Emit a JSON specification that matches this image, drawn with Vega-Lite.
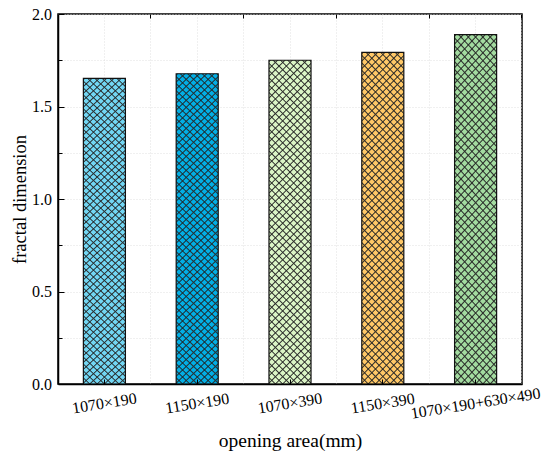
{
  "$schema": "https://vega.github.io/schema/vega-lite/v6.json",
  "width": 464,
  "height": 370,
  "autosize": "none",
  "padding": {"left": 58, "top": 14, "right": 28, "bottom": 68},
  "config": {
    "view": {"stroke": "#000", "strokeWidth": 1.5},
    "font": "Liberation Serif",
    "axis": {
      "labelFont": "Liberation Serif",
      "titleFont": "Liberation Serif",
      "labelColor": "#000",
      "titleColor": "#000",
      "tickColor": "#000",
      "domainColor": "#000",
      "domainWidth": 1.5,
      "gridColor": "#d8d8d8",
      "gridDash": [1, 2],
      "gridWidth": 0.8
    }
  },
  "data": {
    "values": [
      {"area": "1070×190", "fd": 1.652},
      {"area": "1150×190", "fd": 1.677},
      {"area": "1070×390", "fd": 1.750},
      {"area": "1150×390", "fd": 1.793},
      {"area": "1070×190+630×490", "fd": 1.888}
    ]
  },
  "layer": [
    {
      "mark": {"type": "bar"},
      "encoding": {
        "x": {
          "field": "area", "type": "nominal", "sort": null,
          "scale": {"paddingInner": 0.547, "paddingOuter": 0.2735},
          "axis": {
            "title": "opening area(mm)", "titleFontSize": 19.5, "titleFontWeight": "normal",
            "titleBaseline": "alphabetic", "titleY": 62,
            "labelFontSize": 16, "labelAngle": -9, "labelAlign": "center", "labelBaseline": "middle",
            "labelPadding": 24, "labelOverlap": false,
            "bandPosition": 0.5, "tickSize": -5, "grid": false, "zindex": 1
          }
        },
        "y": {
          "field": "fd", "type": "quantitative",
          "scale": {"domain": [0, 2], "nice": false},
          "axis": {
            "title": "fractal dimension", "titleFontSize": 18.5, "titleFontWeight": "normal",
            "titleBaseline": "alphabetic", "titleX": -33,
            "values": [0, 0.5, 1, 1.5, 2], "format": ".1f",
            "labelFontSize": 16, "labelPadding": 12.5, "tickSize": -6, "grid": true
          }
        },
        "color": {
          "field": "area", "type": "nominal", "sort": null, "legend": null,
          "scale": {
            "domain": ["1070×190", "1150×190", "1070×390", "1150×390", "1070×190+630×490"],
            "range": ["#72d6f3", "#03aee4", "#dbf5c6", "#ffc867", "#a3dba0"]
          }
        }
      }
    },
    {
      "mark": {
        "type": "bar",
        "fill": {
          "gradient": "linear", "x1": 0, "y1": 0, "x2": 0.156, "y2": 1.2,
          "stops": [
            {"offset": 0, "color": "transparent"}, {"offset": 0.00325, "color": "#333"}, {"offset": 0.0065, "color": "transparent"},
            {"offset": 0.0185, "color": "transparent"}, {"offset": 0.02175, "color": "#333"}, {"offset": 0.025, "color": "transparent"},
            {"offset": 0.037, "color": "transparent"}, {"offset": 0.04025, "color": "#333"}, {"offset": 0.0435, "color": "transparent"},
            {"offset": 0.0555, "color": "transparent"}, {"offset": 0.05875, "color": "#333"}, {"offset": 0.062, "color": "transparent"},
            {"offset": 0.074, "color": "transparent"}, {"offset": 0.07725, "color": "#333"}, {"offset": 0.0805, "color": "transparent"},
            {"offset": 0.0925, "color": "transparent"}, {"offset": 0.09575, "color": "#333"}, {"offset": 0.099, "color": "transparent"},
            {"offset": 0.111, "color": "transparent"}, {"offset": 0.11425, "color": "#333"}, {"offset": 0.1175, "color": "transparent"},
            {"offset": 0.1295, "color": "transparent"}, {"offset": 0.13275, "color": "#333"}, {"offset": 0.136, "color": "transparent"},
            {"offset": 0.148, "color": "transparent"}, {"offset": 0.15125, "color": "#333"}, {"offset": 0.1545, "color": "transparent"},
            {"offset": 0.1665, "color": "transparent"}, {"offset": 0.16975, "color": "#333"}, {"offset": 0.173, "color": "transparent"},
            {"offset": 0.185, "color": "transparent"}, {"offset": 0.18825, "color": "#333"}, {"offset": 0.1915, "color": "transparent"},
            {"offset": 0.2035, "color": "transparent"}, {"offset": 0.20675, "color": "#333"}, {"offset": 0.21, "color": "transparent"},
            {"offset": 0.222, "color": "transparent"}, {"offset": 0.22525, "color": "#333"}, {"offset": 0.2285, "color": "transparent"},
            {"offset": 0.2405, "color": "transparent"}, {"offset": 0.24375, "color": "#333"}, {"offset": 0.247, "color": "transparent"},
            {"offset": 0.259, "color": "transparent"}, {"offset": 0.26225, "color": "#333"}, {"offset": 0.2655, "color": "transparent"},
            {"offset": 0.2775, "color": "transparent"}, {"offset": 0.28075, "color": "#333"}, {"offset": 0.284, "color": "transparent"},
            {"offset": 0.296, "color": "transparent"}, {"offset": 0.29925, "color": "#333"}, {"offset": 0.3025, "color": "transparent"},
            {"offset": 0.3145, "color": "transparent"}, {"offset": 0.31775, "color": "#333"}, {"offset": 0.321, "color": "transparent"},
            {"offset": 0.333, "color": "transparent"}, {"offset": 0.33625, "color": "#333"}, {"offset": 0.3395, "color": "transparent"},
            {"offset": 0.3515, "color": "transparent"}, {"offset": 0.35475, "color": "#333"}, {"offset": 0.358, "color": "transparent"},
            {"offset": 0.37, "color": "transparent"}, {"offset": 0.37325, "color": "#333"}, {"offset": 0.3765, "color": "transparent"},
            {"offset": 0.3885, "color": "transparent"}, {"offset": 0.39175, "color": "#333"}, {"offset": 0.395, "color": "transparent"},
            {"offset": 0.407, "color": "transparent"}, {"offset": 0.41025, "color": "#333"}, {"offset": 0.4135, "color": "transparent"},
            {"offset": 0.4255, "color": "transparent"}, {"offset": 0.42875, "color": "#333"}, {"offset": 0.432, "color": "transparent"},
            {"offset": 0.444, "color": "transparent"}, {"offset": 0.44725, "color": "#333"}, {"offset": 0.4505, "color": "transparent"},
            {"offset": 0.4625, "color": "transparent"}, {"offset": 0.46575, "color": "#333"}, {"offset": 0.469, "color": "transparent"},
            {"offset": 0.481, "color": "transparent"}, {"offset": 0.48425, "color": "#333"}, {"offset": 0.4875, "color": "transparent"},
            {"offset": 0.4995, "color": "transparent"}, {"offset": 0.50275, "color": "#333"}, {"offset": 0.506, "color": "transparent"},
            {"offset": 0.518, "color": "transparent"}, {"offset": 0.52125, "color": "#333"}, {"offset": 0.5245, "color": "transparent"},
            {"offset": 0.5365, "color": "transparent"}, {"offset": 0.53975, "color": "#333"}, {"offset": 0.543, "color": "transparent"},
            {"offset": 0.555, "color": "transparent"}, {"offset": 0.55825, "color": "#333"}, {"offset": 0.5615, "color": "transparent"},
            {"offset": 0.5735, "color": "transparent"}, {"offset": 0.57675, "color": "#333"}, {"offset": 0.58, "color": "transparent"},
            {"offset": 0.592, "color": "transparent"}, {"offset": 0.59525, "color": "#333"}, {"offset": 0.5985, "color": "transparent"},
            {"offset": 0.6105, "color": "transparent"}, {"offset": 0.61375, "color": "#333"}, {"offset": 0.617, "color": "transparent"},
            {"offset": 0.629, "color": "transparent"}, {"offset": 0.63225, "color": "#333"}, {"offset": 0.6355, "color": "transparent"},
            {"offset": 0.6475, "color": "transparent"}, {"offset": 0.65075, "color": "#333"}, {"offset": 0.654, "color": "transparent"},
            {"offset": 0.666, "color": "transparent"}, {"offset": 0.66925, "color": "#333"}, {"offset": 0.6725, "color": "transparent"},
            {"offset": 0.6845, "color": "transparent"}, {"offset": 0.68775, "color": "#333"}, {"offset": 0.691, "color": "transparent"},
            {"offset": 0.703, "color": "transparent"}, {"offset": 0.70625, "color": "#333"}, {"offset": 0.7095, "color": "transparent"},
            {"offset": 0.7215, "color": "transparent"}, {"offset": 0.72475, "color": "#333"}, {"offset": 0.728, "color": "transparent"},
            {"offset": 0.74, "color": "transparent"}, {"offset": 0.74325, "color": "#333"}, {"offset": 0.7465, "color": "transparent"},
            {"offset": 0.7585, "color": "transparent"}, {"offset": 0.76175, "color": "#333"}, {"offset": 0.765, "color": "transparent"},
            {"offset": 0.777, "color": "transparent"}, {"offset": 0.78025, "color": "#333"}, {"offset": 0.7835, "color": "transparent"},
            {"offset": 0.7955, "color": "transparent"}, {"offset": 0.79875, "color": "#333"}, {"offset": 0.802, "color": "transparent"},
            {"offset": 0.814, "color": "transparent"}, {"offset": 0.81725, "color": "#333"}, {"offset": 0.8205, "color": "transparent"},
            {"offset": 0.8325, "color": "transparent"}, {"offset": 0.83575, "color": "#333"}, {"offset": 0.839, "color": "transparent"},
            {"offset": 0.851, "color": "transparent"}, {"offset": 0.85425, "color": "#333"}, {"offset": 0.8575, "color": "transparent"},
            {"offset": 0.8695, "color": "transparent"}, {"offset": 0.87275, "color": "#333"}, {"offset": 0.876, "color": "transparent"},
            {"offset": 0.888, "color": "transparent"}, {"offset": 0.89125, "color": "#333"}, {"offset": 0.8945, "color": "transparent"},
            {"offset": 0.9065, "color": "transparent"}, {"offset": 0.90975, "color": "#333"}, {"offset": 0.913, "color": "transparent"},
            {"offset": 0.925, "color": "transparent"}, {"offset": 0.92825, "color": "#333"}, {"offset": 0.9315, "color": "transparent"}
          ]
        }
      },
      "encoding": {
        "x": {
          "field": "area", "type": "nominal", "sort": null,
          "scale": {"paddingInner": 0.547, "paddingOuter": 0.2735},
          "axis": {
            "title": null, "labels": false, "ticks": false, "domain": false,
            "bandPosition": 0.5, "grid": true, "zindex": 0
          }
        },
        "y": {
          "field": "fd", "type": "quantitative",
          "scale": {"domain": [0, 2], "nice": false},
          "axis": {
            "orient": "left", "title": null, "labels": false, "domain": false,
            "values": [0.25, 0.75, 1.25, 1.75], "tickSize": -4, "grid": true
          }
        }
      }
    },
    {
      "mark": {
        "type": "bar", "stroke": "#111", "strokeWidth": 1.2,
        "fill": {
          "gradient": "linear", "x1": 1, "y1": 0, "x2": 0.844, "y2": 1.2,
          "stops": [
            {"offset": 0, "color": "transparent"}, {"offset": 0.00325, "color": "#333"}, {"offset": 0.0065, "color": "transparent"},
            {"offset": 0.0185, "color": "transparent"}, {"offset": 0.02175, "color": "#333"}, {"offset": 0.025, "color": "transparent"},
            {"offset": 0.037, "color": "transparent"}, {"offset": 0.04025, "color": "#333"}, {"offset": 0.0435, "color": "transparent"},
            {"offset": 0.0555, "color": "transparent"}, {"offset": 0.05875, "color": "#333"}, {"offset": 0.062, "color": "transparent"},
            {"offset": 0.074, "color": "transparent"}, {"offset": 0.07725, "color": "#333"}, {"offset": 0.0805, "color": "transparent"},
            {"offset": 0.0925, "color": "transparent"}, {"offset": 0.09575, "color": "#333"}, {"offset": 0.099, "color": "transparent"},
            {"offset": 0.111, "color": "transparent"}, {"offset": 0.11425, "color": "#333"}, {"offset": 0.1175, "color": "transparent"},
            {"offset": 0.1295, "color": "transparent"}, {"offset": 0.13275, "color": "#333"}, {"offset": 0.136, "color": "transparent"},
            {"offset": 0.148, "color": "transparent"}, {"offset": 0.15125, "color": "#333"}, {"offset": 0.1545, "color": "transparent"},
            {"offset": 0.1665, "color": "transparent"}, {"offset": 0.16975, "color": "#333"}, {"offset": 0.173, "color": "transparent"},
            {"offset": 0.185, "color": "transparent"}, {"offset": 0.18825, "color": "#333"}, {"offset": 0.1915, "color": "transparent"},
            {"offset": 0.2035, "color": "transparent"}, {"offset": 0.20675, "color": "#333"}, {"offset": 0.21, "color": "transparent"},
            {"offset": 0.222, "color": "transparent"}, {"offset": 0.22525, "color": "#333"}, {"offset": 0.2285, "color": "transparent"},
            {"offset": 0.2405, "color": "transparent"}, {"offset": 0.24375, "color": "#333"}, {"offset": 0.247, "color": "transparent"},
            {"offset": 0.259, "color": "transparent"}, {"offset": 0.26225, "color": "#333"}, {"offset": 0.2655, "color": "transparent"},
            {"offset": 0.2775, "color": "transparent"}, {"offset": 0.28075, "color": "#333"}, {"offset": 0.284, "color": "transparent"},
            {"offset": 0.296, "color": "transparent"}, {"offset": 0.29925, "color": "#333"}, {"offset": 0.3025, "color": "transparent"},
            {"offset": 0.3145, "color": "transparent"}, {"offset": 0.31775, "color": "#333"}, {"offset": 0.321, "color": "transparent"},
            {"offset": 0.333, "color": "transparent"}, {"offset": 0.33625, "color": "#333"}, {"offset": 0.3395, "color": "transparent"},
            {"offset": 0.3515, "color": "transparent"}, {"offset": 0.35475, "color": "#333"}, {"offset": 0.358, "color": "transparent"},
            {"offset": 0.37, "color": "transparent"}, {"offset": 0.37325, "color": "#333"}, {"offset": 0.3765, "color": "transparent"},
            {"offset": 0.3885, "color": "transparent"}, {"offset": 0.39175, "color": "#333"}, {"offset": 0.395, "color": "transparent"},
            {"offset": 0.407, "color": "transparent"}, {"offset": 0.41025, "color": "#333"}, {"offset": 0.4135, "color": "transparent"},
            {"offset": 0.4255, "color": "transparent"}, {"offset": 0.42875, "color": "#333"}, {"offset": 0.432, "color": "transparent"},
            {"offset": 0.444, "color": "transparent"}, {"offset": 0.44725, "color": "#333"}, {"offset": 0.4505, "color": "transparent"},
            {"offset": 0.4625, "color": "transparent"}, {"offset": 0.46575, "color": "#333"}, {"offset": 0.469, "color": "transparent"},
            {"offset": 0.481, "color": "transparent"}, {"offset": 0.48425, "color": "#333"}, {"offset": 0.4875, "color": "transparent"},
            {"offset": 0.4995, "color": "transparent"}, {"offset": 0.50275, "color": "#333"}, {"offset": 0.506, "color": "transparent"},
            {"offset": 0.518, "color": "transparent"}, {"offset": 0.52125, "color": "#333"}, {"offset": 0.5245, "color": "transparent"},
            {"offset": 0.5365, "color": "transparent"}, {"offset": 0.53975, "color": "#333"}, {"offset": 0.543, "color": "transparent"},
            {"offset": 0.555, "color": "transparent"}, {"offset": 0.55825, "color": "#333"}, {"offset": 0.5615, "color": "transparent"},
            {"offset": 0.5735, "color": "transparent"}, {"offset": 0.57675, "color": "#333"}, {"offset": 0.58, "color": "transparent"},
            {"offset": 0.592, "color": "transparent"}, {"offset": 0.59525, "color": "#333"}, {"offset": 0.5985, "color": "transparent"},
            {"offset": 0.6105, "color": "transparent"}, {"offset": 0.61375, "color": "#333"}, {"offset": 0.617, "color": "transparent"},
            {"offset": 0.629, "color": "transparent"}, {"offset": 0.63225, "color": "#333"}, {"offset": 0.6355, "color": "transparent"},
            {"offset": 0.6475, "color": "transparent"}, {"offset": 0.65075, "color": "#333"}, {"offset": 0.654, "color": "transparent"},
            {"offset": 0.666, "color": "transparent"}, {"offset": 0.66925, "color": "#333"}, {"offset": 0.6725, "color": "transparent"},
            {"offset": 0.6845, "color": "transparent"}, {"offset": 0.68775, "color": "#333"}, {"offset": 0.691, "color": "transparent"},
            {"offset": 0.703, "color": "transparent"}, {"offset": 0.70625, "color": "#333"}, {"offset": 0.7095, "color": "transparent"},
            {"offset": 0.7215, "color": "transparent"}, {"offset": 0.72475, "color": "#333"}, {"offset": 0.728, "color": "transparent"},
            {"offset": 0.74, "color": "transparent"}, {"offset": 0.74325, "color": "#333"}, {"offset": 0.7465, "color": "transparent"},
            {"offset": 0.7585, "color": "transparent"}, {"offset": 0.76175, "color": "#333"}, {"offset": 0.765, "color": "transparent"},
            {"offset": 0.777, "color": "transparent"}, {"offset": 0.78025, "color": "#333"}, {"offset": 0.7835, "color": "transparent"},
            {"offset": 0.7955, "color": "transparent"}, {"offset": 0.79875, "color": "#333"}, {"offset": 0.802, "color": "transparent"},
            {"offset": 0.814, "color": "transparent"}, {"offset": 0.81725, "color": "#333"}, {"offset": 0.8205, "color": "transparent"},
            {"offset": 0.8325, "color": "transparent"}, {"offset": 0.83575, "color": "#333"}, {"offset": 0.839, "color": "transparent"},
            {"offset": 0.851, "color": "transparent"}, {"offset": 0.85425, "color": "#333"}, {"offset": 0.8575, "color": "transparent"},
            {"offset": 0.8695, "color": "transparent"}, {"offset": 0.87275, "color": "#333"}, {"offset": 0.876, "color": "transparent"},
            {"offset": 0.888, "color": "transparent"}, {"offset": 0.89125, "color": "#333"}, {"offset": 0.8945, "color": "transparent"},
            {"offset": 0.9065, "color": "transparent"}, {"offset": 0.90975, "color": "#333"}, {"offset": 0.913, "color": "transparent"},
            {"offset": 0.925, "color": "transparent"}, {"offset": 0.92825, "color": "#333"}, {"offset": 0.9315, "color": "transparent"}
          ]
        }
      },
      "encoding": {
        "x": {
          "field": "area", "type": "nominal", "sort": null,
          "scale": {"paddingInner": 0.547, "paddingOuter": 0.2735},
          "axis": {
            "title": null, "labels": false, "domain": false,
            "bandPosition": 1.6037, "tickSize": -4, "grid": true, "zindex": 0
          }
        },
        "y": {
          "field": "fd", "type": "quantitative",
          "scale": {"domain": [0, 2], "nice": false},
          "axis": null
        }
      }
    }
  ],
  "resolve": {"axis": {"x": "independent", "y": "independent"}}
}
